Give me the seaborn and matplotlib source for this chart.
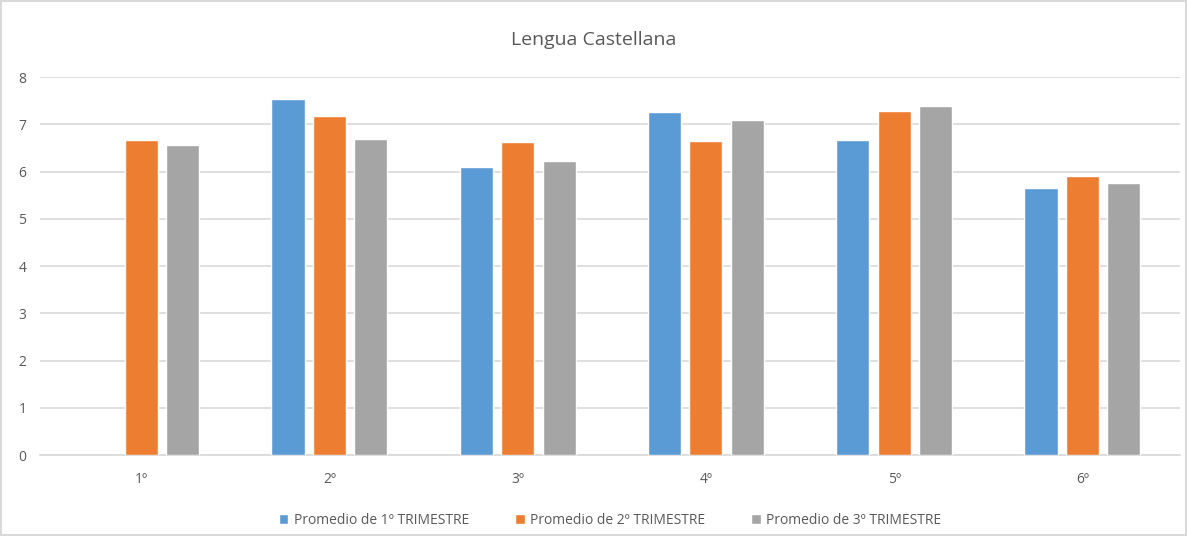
import matplotlib.pyplot as plt
import seaborn as sns
import pandas as pd
import numpy as np

cursos = ["1º", "2º", "3º", "4º", "5º", "6º"]
trim_1 = [np.nan, 7.53, 6.09, 7.26, 6.66, 5.66]
trim_2 = [6.66, 7.17, 6.62, 6.65, 7.28, 5.90]
trim_3 = [6.56, 6.70, 6.23, 7.10, 7.39, 5.77]
series = ["Promedio de 1º TRIMESTRE", "Promedio de 2º TRIMESTRE", "Promedio de 3º TRIMESTRE"]
colores = ["#5B9BD5", "#ED7D31", "#A5A5A5"]

TEXT = "#595959"
GRID = "#D9D9D9"


def build_frame() -> pd.DataFrame:
    rows = []
    for name, values in zip(series, [trim_1, trim_2, trim_3]):
        for curso, value in zip(cursos, values):
            rows.append({"curso": curso, "serie": name, "valor": value})
    return pd.DataFrame(rows)


def main() -> None:
    sns.set_theme(style="white")
    plt.rcParams["font.family"] = ["Open Sans", "DejaVu Sans"]

    df = build_frame()
    fig = plt.figure(figsize=(11.87, 5.36), dpi=100)
    fig.patch.set_edgecolor(GRID)
    fig.patch.set_linewidth(1.5)
    ax = fig.add_axes([0.034, 0.151, 0.96, 0.705])

    sns.barplot(
        data=df, x="curso", y="valor", hue="serie", order=cursos, hue_order=series,
        palette=colores, width=0.66, gap=0.2, saturation=1, ax=ax, zorder=3,
    )

    ax.set_ylim(0, 8)
    ax.set_yticks(range(0, 9))
    ax.set_xlim(-0.536, 5.518)
    ax.yaxis.grid(True, color=GRID, linewidth=1.2, zorder=0)
    ax.set_axisbelow(True)
    for side in ["top", "right", "left"]:
        ax.spines[side].set_visible(False)
    ax.spines["bottom"].set_color(GRID)
    ax.spines["bottom"].set_linewidth(1.2)
    ax.tick_params(axis="both", length=0, colors=TEXT, labelsize=10)
    ax.tick_params(axis="x", pad=12)
    ax.tick_params(axis="y", pad=10)
    ax.set_xlabel("")
    ax.set_ylabel("")

    fig.text(0.5, 0.925, "Lengua Castellana", ha="center", va="center", fontsize=14, color=TEXT)

    ax.legend(
        loc="upper center", bbox_to_anchor=(0.5, -0.12), ncol=3, frameon=False,
        fontsize=10, labelcolor=TEXT, handlelength=0.7, handleheight=0.7,
        handletextpad=0.4, columnspacing=3.3,
    )

    plt.savefig("out.png", dpi=100)
    plt.close()


if __name__ == "__main__":
    main()
